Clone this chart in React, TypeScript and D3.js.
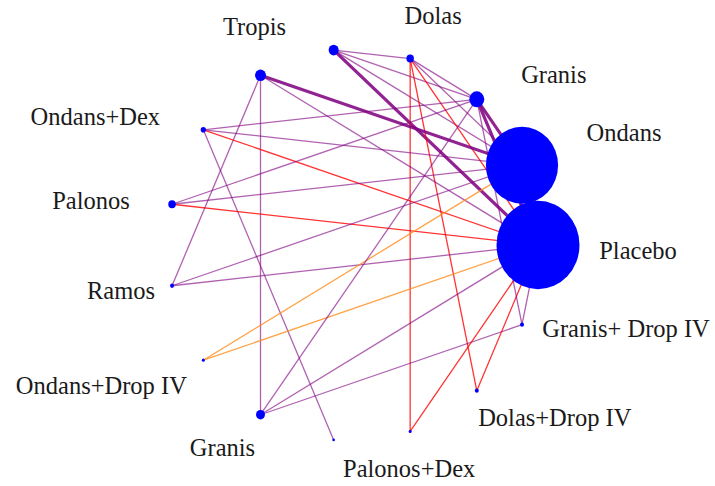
import React from "react";
import * as d3 from "d3";

// ---- data ----
const nodeNames = [
  "Placebo",
  "Ondans",
  "Granis",
  "Dolas",
  "",
  "Tropis",
  "Ondans+Dex",
  "Palonos",
  "Ramos",
  "Ondans+Drop IV",
  "Granis",
  "",
  "Palonos+Dex",
  "Dolas+Drop IV",
  "Granis+ Drop IV",
];
// node sizes (sample-size like values, area ~ value)
const nodeValues = [1720, 1300, 56, 14, 25, 30, 7, 14, 4, 2.3, 20, 1.7, 2.3, 4, 4];

// edges: [source index, target index]
const edgeSource = [4, 4, 4, 4, 3, 3, 3, 3, 3, 2, 2, 5, 5, 5, 5, 6, 6, 6, 6, 7, 7, 7, 8, 8, 9, 9, 10, 10, 10, 12, 13, 14, 14];
const edgeTarget = [3, 2, 1, 0, 2, 1, 12, 13, 0, 1, 0, 1, 0, 10, 8, 2, 1, 0, 11, 2, 1, 0, 1, 0, 1, 0, 2, 0, 14, 0, 0, 0, 2];
// number of studies per comparison
const edgeStudies = [1, 1, 1, 3, 1, 1, 1, 1, 1, 3, 3, 3, 1, 1, 1, 1, 1, 1, 1, 1, 1, 1, 1, 1, 1, 1, 1, 1, 1, 1, 1, 1, 1];
// evidence category per comparison
const edgeGroup = ["p", "p", "p", "p", "p", "p", "r", "r", "r", "p", "p", "p", "p", "p", "p", "p", "p", "r", "p", "p", "p", "r", "p", "p", "o", "o", "p", "p", "p", "r", "r", "p", "p"];

// ---- layout constants ----
const W = 715;
const H = 486;
const CX = 353;
const CY = 245;
const RX = 185;
const RY = 196;
const STRETCH = 1.065;
// label offsets relative to node (dx, dy of text baseline centre)
const labelOffsets: [number, number][] = [
  [100, 14],
  [102, -24],
  [77, -16],
  [23, -35],
  [0, 0],
  [-6, -40],
  [-108, -5],
  [-81, 5],
  [-51, 13],
  [-102, 34],
  [-38, 41],
  [0, 0],
  [-1, 46],
  [78, 35],
  [104, 12],
];

const colorScale = d3
  .scaleOrdinal<string, string>()
  .domain(["p", "r", "o"])
  .range(["#800080", "#ff0000", "#ff8c1a"]);
const baseOpacity = d3
  .scaleOrdinal<string, number>()
  .domain(["p", "r", "o"])
  .range([0.62, 0.8, 0.8]);
const opacityBoost = d3.scaleLinear().domain([1, 3]).range([1, 1.4]);
const widthScale = d3.scaleLinear().domain([1, 3]).range([1.3, 3.2]);
const rScale = d3.scaleSqrt().domain([0, 1720]).range([0, 41.5]);
const angleScale = d3
  .scaleLinear()
  .domain([0, nodeNames.length])
  .range([0, 2 * Math.PI]);

export default function App() {
  const nodes = nodeNames.map((name, i) => {
    const a = angleScale(i);
    return {
      name,
      x: CX + RX * Math.cos(a),
      y: CY - RY * Math.sin(a),
      r: rScale(nodeValues[i]),
    };
  });
  const edges = edgeSource.map((s, i) => ({
    s: nodes[s],
    t: nodes[edgeTarget[i]],
    w: edgeStudies[i],
    g: edgeGroup[i],
  }));
  return (
    <svg
      width={W}
      height={H}
      style={{ position: "absolute", left: 0, top: 0, background: "#fff" }}
    >
      <g>
        {edges.map((e, i) => (
          <line
            key={i}
            x1={e.s.x}
            y1={e.s.y}
            x2={e.t.x}
            y2={e.t.y}
            stroke={colorScale(e.g)}
            strokeOpacity={Math.min(1, baseOpacity(e.g) * opacityBoost(e.w))}
            strokeWidth={widthScale(e.w)}
          />
        ))}
      </g>
      <g>
        {nodes.map((n, i) => (
          <ellipse
            key={i}
            cx={n.x}
            cy={n.y}
            rx={n.r}
            ry={n.r * STRETCH}
            fill="#0000ff"
          />
        ))}
      </g>
      <g
        style={{ fontFamily: "'Liberation Serif', 'DejaVu Serif', serif" }}
        fontSize={24.5}
        fill="#1a1a1a"
        textAnchor="middle"
      >
        {nodes.map((n, i) =>
          n.name ? (
            <text key={i} x={n.x + labelOffsets[i][0]} y={n.y + labelOffsets[i][1]}>
              {n.name}
            </text>
          ) : null
        )}
      </g>
    </svg>
  );
}
